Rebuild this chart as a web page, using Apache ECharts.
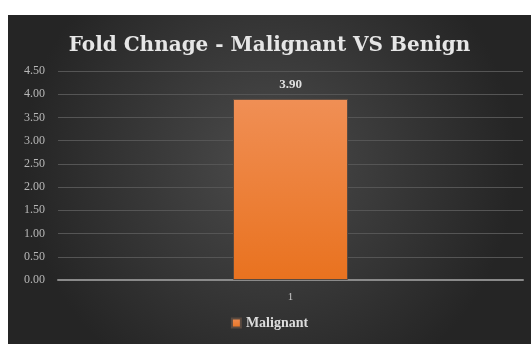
<!DOCTYPE html>
<html>
<head>
<meta charset="utf-8">
<script src="https://cdn.jsdelivr.net/npm/echarts@6/dist/echarts.min.js"></script>
<style>
  html, body { margin: 0; padding: 0; background: #fff; }
  #cnv { position: absolute; left: 8px; top: 15px; width: 523px; height: 329px; }
</style>
</head>
<body>
<div id="cnv"></div>
<script>
var categories = ["1"];
var seriesName = "Malignant";
var values = [3.90];

var main = document.getElementById("cnv");
var myechart = echarts.init(main);
var serif = "'Liberation Serif', 'DejaVu Serif', serif";
var option = {
    backgroundColor: {
        type: "radial", x: 0.5, y: 0.45, r: 0.75,
        colorStops: [{ offset: 0, color: "#4b4b4b" }, { offset: 1, color: "#252525" }]
    },
    title: {
        text: "Fold Chnage - Malignant VS Benign",
        left: "center", top: 16,
        textStyle: { color: "#e6e6e6", fontFamily: "'DejaVu Serif', serif", fontSize: 20, fontWeight: "bold" }
    },
    legend: {
        bottom: 9, left: "center",
        itemWidth: 9, itemHeight: 9, itemGap: 4,
        icon: "rect",
        textStyle: { color: "#dcdcdc", fontFamily: serif, fontSize: 14, fontWeight: "bold" },
        data: [seriesName]
    },
    grid: { left: 50, right: 8, top: 56, bottom: 64 },
    xAxis: {
        type: "category",
        data: categories,
        axisLine: { lineStyle: { color: "#8a8a8a", width: 2 } },
        axisTick: { show: false },
        axisLabel: { color: "#c8c8c8", fontFamily: serif, fontSize: 11, margin: 12 }
    },
    yAxis: {
        type: "value",
        min: 0, max: 4.5, interval: 0.5,
        axisLine: { show: false },
        axisTick: { show: false },
        axisLabel: {
            color: "#b8b8b8", fontFamily: serif, fontSize: 12, margin: 13,
            formatter: function (v) { return v.toFixed(2); }
        },
        splitLine: { lineStyle: { color: "#555555", width: 1 } }
    },
    series: [{
        name: seriesName,
        type: "bar",
        data: values,
        barWidth: 115,
        itemStyle: {
            color: {
                type: "linear", x: 0, y: 0, x2: 0, y2: 1,
                colorStops: [{ offset: 0, color: "#f08f55" }, { offset: 1, color: "#e9721f" }]
            },
            borderColor: "#5a4a40", borderWidth: 1
        },
        label: {
            show: true, position: "top", distance: 8,
            color: "#e0e0e0", fontFamily: serif, fontSize: 13, fontWeight: "bold",
            formatter: function (p) { return p.value.toFixed(2); }
        }
    }]
};
myechart.setOption(option);
</script>
</body>
</html>
